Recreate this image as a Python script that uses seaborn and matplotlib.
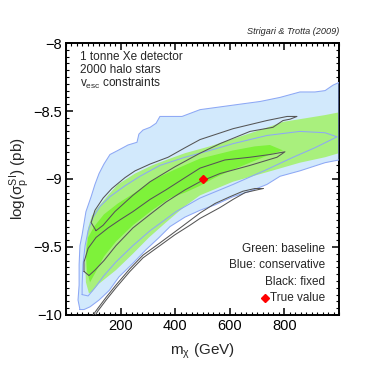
import matplotlib
matplotlib.use("Agg")
import matplotlib.pyplot as plt
from matplotlib.ticker import MultipleLocator, FixedLocator, FixedFormatter
import seaborn as sns
import numpy as np

# contour outlines: (m_chi in GeV, log10 sigma in pb)
blue_2s_m = [51, 44, 48, 48, 51, 59, 73, 92, 106, 121, 139, 161, 190, 227, 260, 267, 282, 308, 330, 344,
             381, 425, 491, 564, 637, 711, 784, 857, 912, 949, 978, 1000, 1000, 949, 857, 784, 736, 674,
             612, 546, 491, 436, 381, 341, 293, 245, 194, 158, 121, 88, 66]
blue_2s_s = [-9.96, -9.89, -9.78, -9.63, -9.49, -9.41, -9.24, -9.13, -9.04, -8.96, -8.89, -8.82, -8.79,
             -8.75, -8.73, -8.67, -8.64, -8.62, -8.59, -8.54, -8.54, -8.54, -8.49, -8.47, -8.45, -8.43,
             -8.40, -8.36, -8.36, -8.35, -8.31, -8.29, -8.86, -8.88, -8.94, -8.98, -9.04, -9.09, -9.13,
             -9.19, -9.23, -9.28, -9.35, -9.43, -9.52, -9.62, -9.72, -9.82, -9.89, -9.94, -9.96]

blue_1s_m = [59, 59, 62, 70, 81, 99, 125, 161, 216, 271, 344, 436, 527, 612, 736, 857, 949, 993, 912,
             832, 736, 612, 491, 403, 308, 245, 183, 139, 106, 81]
blue_1s_s = [-9.85, -9.78, -9.63, -9.49, -9.38, -9.28, -9.20, -9.13, -9.05, -8.98, -8.90, -8.84, -8.79,
             -8.74, -8.68, -8.65, -8.66, -8.69, -8.77, -8.84, -8.93, -9.04, -9.14, -9.24, -9.38, -9.49,
             -9.61, -9.71, -9.80, -9.86]

green_2s_m = [84, 73, 70, 73, 81, 95, 117, 154, 190, 253, 315, 381, 436, 527, 619, 711, 795, 857, 949,
              1000, 1000, 949, 857, 736, 612, 491, 436, 366, 304, 245, 183, 121, 95]
green_2s_s = [-9.84, -9.76, -9.63, -9.49, -9.36, -9.27, -9.21, -9.12, -9.04, -8.96, -8.90, -8.85, -8.81,
              -8.76, -8.70, -8.64, -8.58, -8.56, -8.53, -8.51, -8.81, -8.84, -8.88, -8.95, -9.02, -9.12,
              -9.20, -9.32, -9.43, -9.55, -9.67, -9.77, -9.83]

green_1s_m = [88, 77, 73, 81, 103, 139, 190, 253, 315, 399, 491, 612, 692, 747, 795, 747, 674, 612, 546,
              491, 436, 381, 315, 245, 183, 139, 110]
green_1s_s = [-9.76, -9.68, -9.56, -9.43, -9.35, -9.26, -9.18, -9.10, -9.01, -8.93, -8.85, -8.79, -8.76,
              -8.75, -8.79, -8.82, -8.88, -8.93, -8.99, -9.05, -9.10, -9.14, -9.23, -9.34, -9.46, -9.57,
              -9.68]

black_2s_a_m = [110, 92, 106, 136, 168, 216, 253, 308, 374, 436, 491, 612, 736, 810, 846, 821, 795, 758,
                674, 564, 491, 399, 308, 245, 179, 136, 110]
black_2s_a_s = [-9.38, -9.32, -9.23, -9.14, -9.07, -8.99, -8.94, -8.89, -8.84, -8.77, -8.71, -8.63, -8.57,
                -8.54, -8.54, -8.56, -8.57, -8.62, -8.65, -8.74, -8.81, -8.91, -9.02, -9.12, -9.24, -9.34,
                -9.38]

black_2s_b_m = [722, 656, 612, 564, 491, 454, 399, 344, 282, 234, 183, 147, 117, 95, 81, 88, 117, 147,
                183, 234, 282, 344, 418, 491, 546, 601, 648, 692]
black_2s_b_s = [-9.07, -9.10, -9.15, -9.21, -9.29, -9.34, -9.41, -9.49, -9.58, -9.68, -9.80, -9.89, -9.97,
                -10.04, -10.04, -10.03, -9.95, -9.87, -9.78, -9.66, -9.56, -9.47, -9.36, -9.25, -9.18,
                -9.13, -9.09, -9.07]

black_1s_m = [66, 66, 81, 110, 154, 198, 245, 308, 366, 436, 491, 582, 674, 747, 802, 773, 674, 564, 491,
              436, 366, 308, 245, 183, 139, 106, 84]
black_1s_s = [-9.68, -9.61, -9.51, -9.43, -9.36, -9.30, -9.24, -9.15, -9.08, -8.99, -8.92, -8.86, -8.84,
              -8.82, -8.80, -8.84, -8.90, -8.96, -9.02, -9.08, -9.17, -9.26, -9.36, -9.49, -9.60, -9.67,
              -9.71]

true_m = [500]
true_s = [-9.0]

xticks = [200, 400, 600, 800]
yticks = [-8, -8.5, -9, -9.5, -10]
ytick_labels = ["\u22128", "\u22128.5", "\u22129", "\u22129.5", "\u221210"]

legend_lines = ["Green: baseline", "Blue: conservative", "Black: fixed"]
info_lines = ["1 tonne Xe detector", "2000 halo stars", r"v$_{esc}$ constraints"]

sns.set_theme(style="ticks")
plt.rcParams["font.family"] = ["Liberation Sans", "DejaVu Sans"]
plt.rcParams["mathtext.fontset"] = "custom"
plt.rcParams["mathtext.rm"] = "Liberation Sans"
plt.rcParams["mathtext.it"] = "Liberation Sans"
plt.rcParams["mathtext.default"] = "regular"

light_blue = "#d2e9fc"
blue_line = "#8da8f5"
light_green = "#a9f07d"
dark_green = "#7ef23a"
grey_line = "#555555"

fig = plt.figure(figsize=(3.74, 3.74), dpi=100)
ax = fig.add_axes([0.1765, 0.1578, 0.7299, 0.7272])


def closed(m, s):
    return np.append(m, m[0]), np.append(s, s[0])


ax.fill(blue_2s_m, blue_2s_s, color=light_blue, lw=0, zorder=1)
ax.fill(green_2s_m, green_2s_s, color=light_green, lw=0, zorder=2)
ax.fill(green_1s_m, green_1s_s, color=dark_green, lw=0, zorder=3)

for m, s, col, z in [(blue_2s_m, blue_2s_s, blue_line, 4),
                     (blue_1s_m, blue_1s_s, blue_line, 4),
                     (black_2s_a_m, black_2s_a_s, grey_line, 5),
                     (black_2s_b_m, black_2s_b_s, grey_line, 5),
                     (black_1s_m, black_1s_s, grey_line, 5)]:
    xm, ys = closed(m, s)
    sns.lineplot(x=xm, y=ys, sort=False, estimator=None, color=col, lw=0.75, ax=ax, zorder=z)

ax.plot(true_m, true_s, marker="D", color="red", ms=4.5, ls="none", zorder=6)

ax.set_xlim(0, 1000)
ax.set_ylim(-10, -8)
ax.xaxis.set_major_locator(FixedLocator(xticks))
ax.xaxis.set_minor_locator(MultipleLocator(20))
ax.yaxis.set_major_locator(FixedLocator(yticks))
ax.yaxis.set_major_formatter(FixedFormatter(ytick_labels))
ax.yaxis.set_minor_locator(MultipleLocator(0.05))
ax.tick_params(which="both", direction="in", top=True, right=True, colors="black", labelsize=10.5)
ax.tick_params(which="major", length=5, width=1.1, pad=3)
ax.tick_params(which="minor", length=2.5, width=0.8)
for sp in ax.spines.values():
    sp.set_linewidth(1.4)
    sp.set_color("black")

ax.set_xlabel(r"m$_\chi$ (GeV)", fontsize=11, labelpad=6)
ax.set_ylabel(r"log($\sigma_p^{SI}$) (pb)", fontsize=11, labelpad=1)

for i, t in enumerate(info_lines):
    ax.text(0.05, 0.948 - i * 0.048, t, transform=ax.transAxes, fontsize=8.5, va="center", ha="left")

for i, t in enumerate(legend_lines):
    ax.text(0.95, 0.243 - i * 0.06, t, transform=ax.transAxes, fontsize=8.5, va="center", ha="right")
ax.text(0.95, 0.063, "True value", transform=ax.transAxes, fontsize=8.5, va="center", ha="right")
ax.plot([0.728], [0.063], transform=ax.transAxes, marker="D", color="red", ms=4, ls="none")

fig.text(0.908, 0.917, "Strigari & Trotta (2009)", fontsize=6.6, style="italic", ha="right", va="center")

fig.savefig("out.png", dpi=100)
